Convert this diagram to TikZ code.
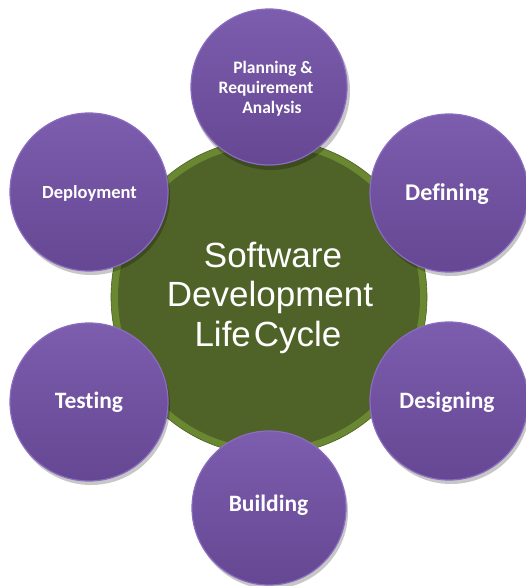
\documentclass[tikz,border=0pt]{standalone}
\usepackage{fontspec}
\setmainfont{Liberation Sans}
\newfontfamily\calfont[Ligatures=NoCommon]{Carlito}
\definecolor{ringgreen}{HTML}{6A8832}
\definecolor{coregreen}{HTML}{4F6228}
\definecolor{purptop}{HTML}{7C5DAE}
\definecolor{purpbot}{HTML}{654793}
\definecolor{purprim}{HTML}{8A6CC0}
\tikzset{
  ring/.style={circle, fill=ringgreen, draw=ringgreen!70!black, line width=0.6pt, minimum size=316pt, inner sep=0pt},
  core/.style={circle, fill=coregreen, minimum size=302pt, inner sep=0pt},
  phase/.style={circle, top color=purptop, bottom color=purpbot, draw=purprim, line width=1.2pt, inner sep=0pt},
  shadowc/.style={circle, fill=black, opacity=0.22, inner sep=0pt},
  lbl/.style={text=white, font=\calfont\bfseries\fontsize{23.5}{28}\selectfont, anchor=base, inner sep=0pt},
  small/.style={text=white, font=\calfont\bfseries\fontsize{17.5}{20}\selectfont, anchor=base, inner sep=0pt},
  big/.style={text=white, font=\fontsize{35}{40}\selectfont, anchor=base, inner sep=0pt}
}
\begin{document}
\begin{tikzpicture}[x=1pt,y=-1pt]
\useasboundingbox (0,0) rectangle (526,586);
% central circle
\node[ring] (ring) at (269,297) {};
\node[core] (core) at (269,297) {};
% shadows
\node[shadowc, minimum size=158pt] (sh1) at (271,91) {};
\node[shadowc, minimum size=158pt] (sh2) at (91,196) {};
\node[shadowc, minimum size=158pt] (sh3) at (451,197) {};
\node[shadowc, minimum size=158pt] (sh4) at (91,406) {};
\node[shadowc, minimum size=158pt] (sh5) at (451,405) {};
\node[shadowc, minimum size=154pt] (sh6) at (271,512) {};
% phases
\node[phase, minimum size=156pt] (plan) at (269,87) {};
\node[phase, minimum size=158pt] (deploy) at (89,192) {};
\node[phase, minimum size=158pt] (define) at (449,193) {};
\node[phase, minimum size=158pt] (test) at (89,402) {};
\node[phase, minimum size=158pt] (design) at (449,401) {};
\node[phase, minimum size=154pt] (build) at (269,508) {};
% labels
\node[small] (tplan1) at (273,73.5) {Planning \&};
\node[small] (tplan2) at (266,93.5) {Requirement};
\node[small] (tplan3) at (272,113.5) {Analysis};
\node[lbl, font=\calfont\bfseries\fontsize{18.5}{22}\selectfont] (tdeploy) at (89.5,198.5) {Deployment};
\node[lbl, font=\calfont\bfseries\fontsize{24}{28}\selectfont] (tdefine) at (447,200) {Defining};
\node[lbl] (ttest) at (89,408) {Testing};
\node[lbl] (tdesign) at (447,408) {Designing};
\node[lbl] (tbuild) at (268.5,511) {Building};
\node[big] (t1) at (273,267) {Software};
\node[big] (t2) at (270,306) {Development};
\node[big] (t3) at (268,346) {Life\hspace{3pt}Cycle};
\end{tikzpicture}
\end{document}
